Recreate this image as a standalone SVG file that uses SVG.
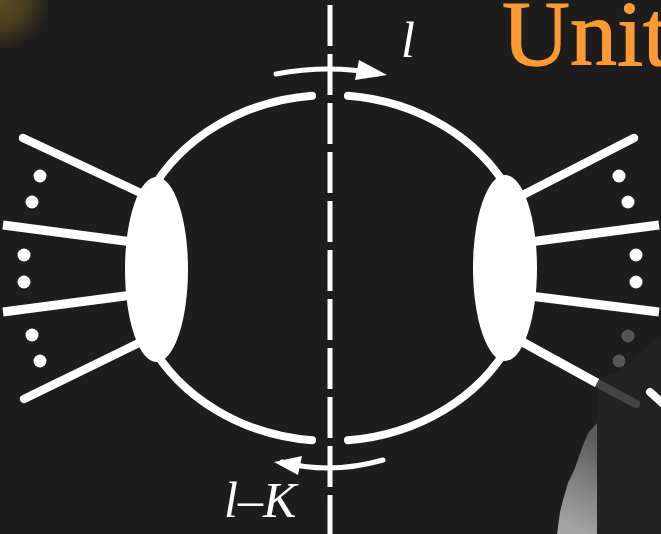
<svg xmlns="http://www.w3.org/2000/svg" width="661" height="534" viewBox="0 0 661 534">
  <defs>
    <radialGradient id="glow" cx="0" cy="0" r="50" gradientUnits="userSpaceOnUse">
      <stop offset="0" stop-color="#5e4c1e"/>
      <stop offset="0.5" stop-color="#4a3e1e"/>
      <stop offset="1" stop-color="#1d1d1d"/>
    </radialGradient>
    <linearGradient id="shade" x1="558" y1="520" x2="597" y2="440" gradientUnits="userSpaceOnUse">
      <stop offset="0" stop-color="#a3a3a3"/>
      <stop offset="1" stop-color="#5c5c5c"/>
    </linearGradient>
    <style>
      .ring { fill: none; stroke: #fff; stroke-width: 8; stroke-linecap: round; }
      .spoke { fill: none; stroke: #fff; stroke-width: 8.5; stroke-linecap: round; }
      .spoke-cut { fill: none; stroke: #fff; stroke-width: 9; stroke-linecap: butt; }
      .blob { fill: #fff; }
      .dot { fill: #fff; }
      .dim { fill: #555; }
      .axis { stroke: #fff; stroke-width: 5; stroke-dasharray: 41 8; fill: none; }
      .arrow { fill: none; stroke: #fff; stroke-width: 5; stroke-linecap: round; }
      .head { fill: #fff; }
      .lbl { font-family: "Liberation Serif", "Times New Roman", serif; font-style: italic; font-size: 50px; fill: #fff; }
      .title { font-family: "Liberation Serif", "Times New Roman", serif; font-size: 94px; fill: #ff9a33; stroke: #ff9a33; stroke-width: 1.2; }
    </style>
  </defs>

  <rect width="661" height="534" fill="#1d1d1d"/>
  <rect width="80" height="80" fill="url(#glow)"/>

  <!-- background shapes bottom right -->
  <polygon points="661,336 618,372 597,378 597,534 661,534" fill="#222222"/>
  <path d="M597,423 L588,433 L582,448 L575,468 L568,483 L563,500 L560,512 L557,534 L597,534 Z" fill="url(#shade)"/>

  <text class="title" x="502" y="65">Unit</text>

  <g id="ring">
    <path class="ring" d="M150,193 A200,173 0 0 1 312,95.7"/>
    <path class="ring" d="M348,95.7 A200,173 0 0 1 510,193"/>
    <path class="ring" d="M510,343 A200,173 0 0 1 348,440.3"/>
    <path class="ring" d="M312,440.3 A200,173 0 0 1 150,343"/>
  </g>

  <g id="left-vertex">
    <line class="spoke" x1="23" y1="138" x2="145" y2="195"/>
    <line class="spoke-cut" x1="3" y1="225" x2="140" y2="243"/>
    <line class="spoke-cut" x1="3" y1="312" x2="140" y2="294"/>
    <line class="spoke" x1="24" y1="399" x2="145" y2="340"/>
    <ellipse class="blob" cx="156.5" cy="269.5" rx="31.5" ry="92.5"/>
    <circle class="dot" cx="40" cy="176" r="6.5"/>
    <circle class="dot" cx="32" cy="202" r="6.5"/>
    <circle class="dot" cx="24" cy="255" r="6.5"/>
    <circle class="dot" cx="24" cy="282" r="6.5"/>
    <circle class="dot" cx="32" cy="335" r="6.5"/>
    <circle class="dot" cx="40" cy="361" r="6.5"/>
  </g>

  <g id="right-vertex">
    <line class="spoke" x1="634" y1="138" x2="515" y2="199"/>
    <line class="spoke-cut" x1="659" y1="225" x2="522" y2="243"/>
    <line class="spoke-cut" x1="659" y1="312" x2="522" y2="295"/>
    <line x1="597" y1="383" x2="636" y2="404" stroke="#444" stroke-width="8.5" stroke-linecap="round"/>
    <line class="spoke-cut" x1="517" y1="339" x2="597" y2="383"/>
    <ellipse class="blob" cx="505" cy="268" rx="32" ry="93"/>
    <circle class="dot" cx="619" cy="176" r="6.5"/>
    <circle class="dot" cx="628" cy="202" r="6.5"/>
    <circle class="dot" cx="636" cy="255" r="6.5"/>
    <circle class="dot" cx="636" cy="282" r="6.5"/>
    <circle class="dim" cx="628" cy="336" r="6.5"/>
    <circle class="dim" cx="619" cy="361" r="6.5"/>
    <line x1="650" y1="392" x2="670" y2="410" stroke="#fff" stroke-width="8" stroke-linecap="round"/>
  </g>

  <g id="connectors">
    <line class="axis" x1="330" y1="5" x2="330" y2="534"/>
    <path class="arrow" d="M276,74 Q330,64 378,74"/>
    <polygon class="head" points="359,60 387,75 355,80"/>
    <path class="arrow" d="M282,462 Q330,475 383,460"/>
    <polygon class="head" points="274,462 302,456 298,475"/>
  </g>

  <g id="labels">
    <text class="lbl" x="401" y="57">l</text>
    <text class="lbl" x="224" y="517">l–K</text>
  </g>
</svg>
